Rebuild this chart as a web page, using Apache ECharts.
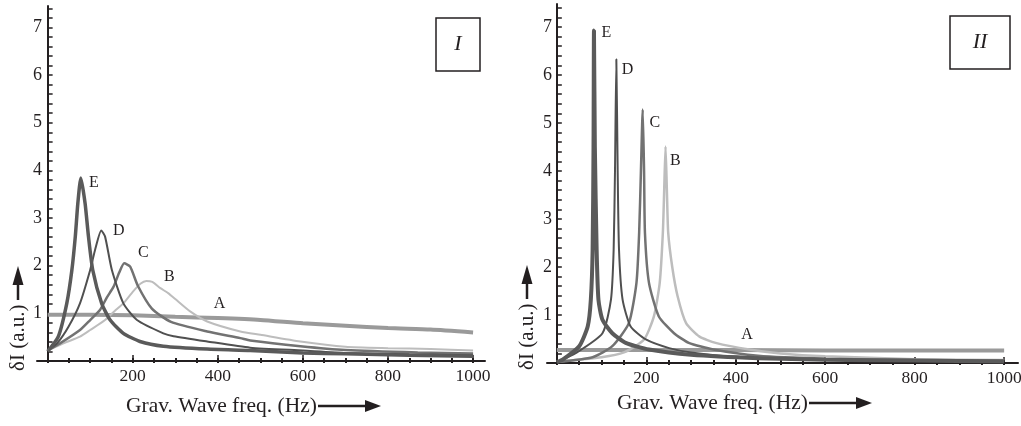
<!DOCTYPE html>
<html><head><meta charset="utf-8">
<script src="https://cdn.jsdelivr.net/npm/echarts@6/dist/echarts.min.js"></script>
<style>html,body{margin:0;padding:0;background:#fff}#c{width:1021px;height:426px}</style>
</head><body><div id="c"></div>
<script>
// ---- tick labels / tick positions ----
const xTickLabels = [200, 400, 600, 800, 1000];
const yTickLabels = [1, 2, 3, 4, 5, 6, 7];
const xMinorTicks = [0,50,100,150,200,250,300,350,400,450,500,550,600,650,700,750,800,850,900,950,1000];
const xMajorTicks = [200, 400, 600, 800, 1000];
const yMinorTicks = [0,0.2,0.4,0.6,0.8,1,1.2,1.4,1.6,1.8,2,2.2,2.4,2.6,2.8,3,3.2,3.4,3.6,3.8,4,4.2,4.4,4.6,4.8,5,5.2,5.4,5.6,5.8,6,6.2,6.4,6.6,6.8,7,7.2,7.4];
const curveNames = ['A', 'B', 'C', 'D', 'E'];

// ---- Panel I data: [frequency Hz, δI a.u.] ----
const panelI_A = [[0,0.97],[100,0.97],[200,0.96],[300,0.93],[400,0.90],[500,0.86],[600,0.79],[700,0.74],[800,0.69],[900,0.66],[1000,0.60]];
const panelI_B = [[0,0.22],[40,0.38],[76,0.51],[100,0.65],[135,0.86],[160,1.07],[178,1.21],[200,1.45],[218,1.62],[232,1.68],[246,1.66],[265,1.53],[284,1.42],[300,1.30],[335,1.04],[375,0.83],[453,0.62],[500,0.55],[594,0.41],[700,0.30],[800,0.27],[900,0.25],[1000,0.22]];
const panelI_C = [[0,0.22],[29,0.37],[76,0.65],[100,0.86],[123,1.07],[139,1.33],[155,1.56],[168,1.85],[180,2.05],[194,1.98],[212,1.58],[245,1.10],[290,0.82],[375,0.62],[453,0.48],[476,0.43],[594,0.31],[700,0.23],[870,0.18],[1000,0.16]];
const panelI_D = [[0,0.22],[22,0.37],[49,0.72],[76,1.21],[100,1.91],[112,2.35],[126,2.74],[135,2.61],[151,1.91],[178,1.21],[210,0.86],[272,0.58],[296,0.52],[375,0.41],[476,0.28],[600,0.22],[700,0.17],[850,0.14],[1000,0.12]];
const panelI_E = [[0,0.20],[25,0.51],[45,1.21],[57,1.91],[65,2.61],[71,3.31],[78,3.84],[88,3.31],[96,2.61],[106,1.91],[127,1.21],[147,0.86],[178,0.58],[217,0.41],[272,0.31],[375,0.25],[476,0.22],[600,0.17],[700,0.15],[850,0.12],[1000,0.10]];

// ---- Panel II data ----
const panelII_A = [[0,0.27],[200,0.27],[400,0.27],[600,0.26],[800,0.26],[1000,0.26]];
const panelII_B = [[0,0.03],[100,0.12],[150,0.22],[195,0.49],[217,0.97],[230,1.67],[237,2.71],[240,3.60],[243,4.51],[246,3.60],[249,2.71],[258,2.00],[270,1.39],[289,0.83],[319,0.55],[355,0.42],[430,0.28],[500,0.20],[600,0.14],[800,0.08],[1000,0.06]];
const panelII_C = [[0,0.02],[80,0.12],[124,0.35],[161,0.83],[178,1.67],[184,2.71],[188,4.00],[192,5.28],[195,4.00],[197,2.71],[206,1.67],[228,0.97],[262,0.62],[295,0.42],[350,0.28],[450,0.15],[600,0.09],[800,0.06],[1000,0.05]];
const panelII_D = [[0,0.02],[43,0.21],[102,0.62],[121,1.32],[127,2.36],[130,4.00],[133,6.33],[136,4.00],[139,2.36],[147,1.32],[165,0.76],[199,0.49],[251,0.31],[300,0.22],[400,0.13],[600,0.07],[800,0.05],[1000,0.04]];
const panelII_E = [[0,0.02],[13,0.07],[50,0.35],[69,0.76],[76,1.32],[80,2.36],[82,4.50],[83,6.93],[85,4.50],[89,2.36],[93,1.32],[102,0.90],[124,0.62],[154,0.42],[206,0.28],[300,0.17],[450,0.10],[600,0.07],[800,0.05],[1000,0.03]];

// ---- curve label anchor positions (data coords) ----
const labelPosI  = [[404,1.21],[286,1.76],[225,2.27],[167,2.73],[109,3.74]];
const labelPosII = [[425,0.59],[265,4.22],[219,5.00],[158,6.11],[111,6.87]];

const FONT = 'Liberation Serif';
const AX = '#231f20';
const colors = ['#9a9a9a', '#bdbdbd', '#727272', '#505050', '#5a5a5a'];
const widthsI = [4, 2, 2.5, 2, 3.5];
const widthsII = [4, 2.5, 2.5, 2, 4];

function xAxes(g, min, max) {
  const base = {gridIndex: g, type: 'value', min: min, max: max, position: 'bottom', splitLine: {show: false}};
  return [
    Object.assign({}, base, {
      axisLine: {show: true, lineStyle: {color: AX, width: 2}},
      axisTick: {show: true, inside: true, length: 3, customValues: xMinorTicks, lineStyle: {color: AX, width: 2}},
      axisLabel: {show: true, customValues: xTickLabels, formatter: v => String(v), fontFamily: FONT, fontSize: 17.5, color: AX, margin: 6}
    }),
    Object.assign({}, base, {
      axisLine: {show: false},
      axisTick: {show: true, inside: false, length: 2, customValues: xMinorTicks, lineStyle: {color: AX, width: 2}},
      axisLabel: {show: false}
    }),
    Object.assign({}, base, {
      axisLine: {show: false},
      axisTick: {show: true, inside: true, length: 6, customValues: xMajorTicks, lineStyle: {color: AX, width: 1.5}},
      axisLabel: {show: false}
    })
  ];
}
function yAxis(g, max, margin) {
  return {
    gridIndex: g, type: 'value', min: 0, max: max, splitLine: {show: false},
    axisLine: {show: true, onZero: true, lineStyle: {color: AX, width: 2}},
    axisTick: {show: true, inside: true, length: 5, customValues: yMinorTicks, lineStyle: {color: AX, width: 1.5}},
    axisLabel: {show: true, customValues: yTickLabels, formatter: v => String(v), fontFamily: FONT, fontSize: 18, color: AX, margin: margin}
  };
}

function makeSeries(datas, widths, xIdx, yIdx, labelPos) {
  return datas.map((d, i) => ({
    type: 'line', name: curveNames[i], data: d, xAxisIndex: xIdx, yAxisIndex: yIdx,
    showSymbol: false, smooth: 0.2, z: 2 + i,
    lineStyle: {color: colors[i], width: widths[i]},
    markPoint: {
      symbol: 'circle', symbolSize: 1, itemStyle: {color: 'rgba(0,0,0,0)'},
      label: {show: true, position: 'inside', formatter: curveNames[i], fontFamily: FONT, fontSize: 16, color: AX},
      data: [{coord: labelPos[i]}]
    }
  }));
}

const seriesAll = [].concat(
  makeSeries([panelI_A, panelI_B, panelI_C, panelI_D, panelI_E], widthsI, 0, 0, labelPosI),
  makeSeries([panelII_A, panelII_B, panelII_C, panelII_D, panelII_E], widthsII, 3, 1, labelPosII)
);

function yTitle(x, yBottom) {
  return [
    {type: 'text', x: x, y: yBottom, rotation: Math.PI / 2,
     style: {text: 'δI (a.u.)', font: '21px "Liberation Serif"', fill: AX, align: 'left', verticalAlign: 'middle'}},
    {type: 'line', shape: {x1: x, y1: yBottom - 71, x2: x, y2: yBottom - 88}, style: {stroke: AX, lineWidth: 2.5}},
    {type: 'polygon', shape: {points: [[x, yBottom - 105], [x - 5.5, yBottom - 86], [x + 5.5, yBottom - 86]]}, style: {fill: AX}}
  ];
}
function xTitle(x, y, arrowEnd) {
  return [
    {type: 'text', x: x, y: y, style: {text: 'Grav. Wave freq. (Hz)', font: '21.5px "Liberation Serif"', fill: AX, align: 'left', verticalAlign: 'middle'}},
    {type: 'line', shape: {x1: x + 192, y1: y, x2: arrowEnd - 14, y2: y}, style: {stroke: AX, lineWidth: 2.5}},
    {type: 'polygon', shape: {points: [[arrowEnd, y], [arrowEnd - 16, y - 6], [arrowEnd - 16, y + 6]]}, style: {fill: AX}}
  ];
}
function box(x, y, w, h, label) {
  return [
    {type: 'rect', shape: {x: x, y: y, width: w, height: h}, style: {fill: '#fff', stroke: AX, lineWidth: 1.5}},
    {type: 'text', x: x + w / 2, y: y + h / 2, style: {text: label, font: 'italic 22px "Liberation Serif"', fill: AX, align: 'center', verticalAlign: 'middle'}}
  ];
}

const chart = echarts.init(document.getElementById('c'), null, {renderer: 'canvas'});
chart.setOption({
  animation: false,
  backgroundColor: '#fff',
  grid: [
    {left: 37, top: 6, width: 448, height: 355, outerBoundsMode: 'none', containLabel: false},
    {left: 547, top: 4, width: 471, height: 359, outerBoundsMode: 'none', containLabel: false}
  ],
  xAxis: [].concat(xAxes(0, -25, 1028), xAxes(1, -22, 1031)),
  yAxis: [yAxis(0, 7.45, -5), yAxis(1, 7.48, -5)],
  series: seriesAll,
  graphic: [].concat(
    box(436, 18, 44, 53, 'I'),
    box(950, 16, 60, 53, 'II'),
    yTitle(18, 371),
    yTitle(527, 370),
    xTitle(126, 406, 381),
    xTitle(617, 403, 872)
  )
});
</script>
</body></html>
